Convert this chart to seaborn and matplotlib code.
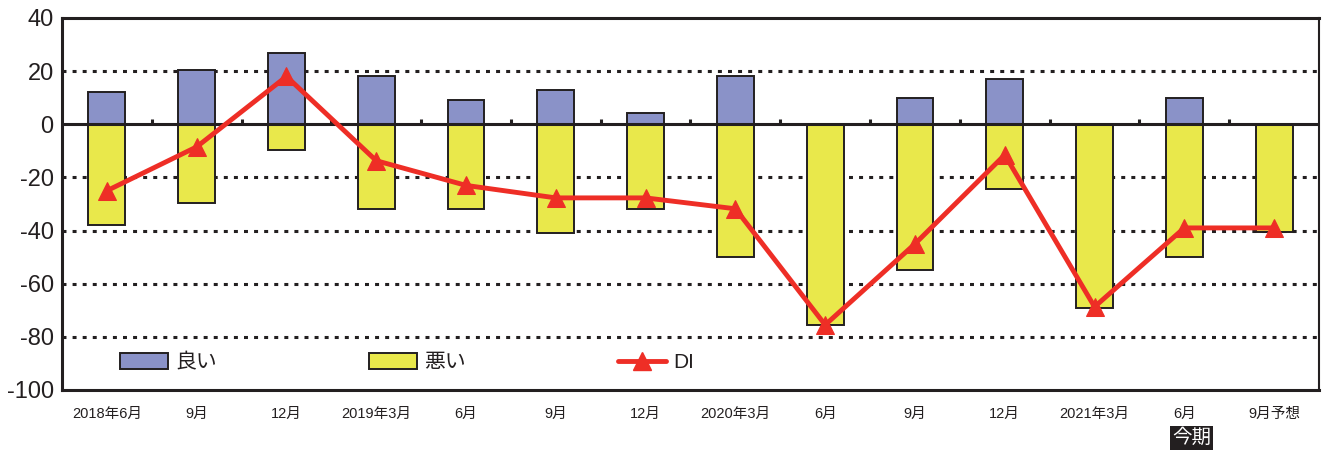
import numpy as np
import pandas as pd
import matplotlib
matplotlib.use("Agg")
import matplotlib.pyplot as plt
from matplotlib.patches import Patch
from matplotlib.lines import Line2D
import seaborn as sns

# Survey periods and responses (% of respondents)
periods = ["2018年6月", "9月", "12月", "2019年3月", "6月", "9月", "12月",
           "2020年3月", "6月", "9月", "12月", "2021年3月", "6月", "9月予想"]
good = [12, 20.5, 27, 18, 9, 13, 4.3, 18, 0, 10, 17, 0, 10, 0]
bad = [-38, -29.5, -9.5, -32, -32, -41, -32, -50, -75.5, -55, -24.5, -69, -50, -40.5]
di = [-25, -8.5, 18, -13.7, -23, -27.7, -27.7, -31.8, -75.5, -45, -11.5, -68.7, -39, -39]
yticks = [40, 20, 0, -20, -40, -60, -80, -100]
current_label = "今期"
current_index = 12

sns.set_theme(style="white")
plt.rcParams["font.family"] = ["Liberation Sans", "Noto Sans CJK JP", "DejaVu Sans"]

BLUE = "#8a92c8"
YELLOW = "#e9e84b"
RED = "#ee2e26"
INK = "#231f20"

fig = plt.figure(figsize=(13.27, 4.5), dpi=100)
ax = fig.add_axes([62 / 1327, 1 - 390 / 450, 1257 / 1327, 372 / 450])

n = len(periods)
df = pd.DataFrame({"period": [f"{i}" for i in range(n)], "good": good, "bad": bad})
order = list(df["period"])

sns.barplot(data=df, x="period", y="good", order=order, color=BLUE, width=0.41,
            edgecolor=INK, linewidth=1.4, saturation=1, ax=ax, zorder=3)
sns.barplot(data=df, x="period", y="bad", order=order, color=YELLOW, width=0.41,
            edgecolor=INK, linewidth=1.4, saturation=1, ax=ax, zorder=3)

sns.lineplot(x=np.arange(n), y=di, color=RED, linewidth=3.5, marker="^",
             markersize=13, markeredgecolor=RED, ax=ax, zorder=5)

ax.set_xlim(-0.5, n - 0.5)
ax.set_ylim(-100, 40)
ax.set_yticks(yticks)
ax.set_yticklabels([str(v) for v in yticks], fontsize=17, color=INK)
ax.set_xticks(np.arange(n))
ax.set_xticklabels(periods, fontsize=10.5, color=INK)
ax.tick_params(axis="x", length=0, pad=12)
ax.tick_params(axis="y", length=0, pad=6)
ax.set_xlabel("")
ax.set_ylabel("")

# dotted gridlines and solid zero line
for v in [20, -20, -40, -60, -80]:
    ax.axhline(v, color=INK, linewidth=2.2, linestyle=(0, (1.3, 2.0)), zorder=1)
ax.axhline(0, color=INK, linewidth=2.2, zorder=4)

# small category tick marks sitting on the zero line
ax.vlines(np.arange(n - 1) + 0.5, 0, 2.0, color=INK, linewidth=2.2, zorder=4)

for side in ["left", "top", "bottom", "right"]:
    ax.spines[side].set_visible(True)
    ax.spines[side].set_color(INK)
    ax.spines[side].set_linewidth(2.2)
ax.spines["right"].set_linewidth(1.5)

handles = [
    Patch(facecolor=BLUE, edgecolor=INK, linewidth=1.4, label="良い"),
    Patch(facecolor=YELLOW, edgecolor=INK, linewidth=1.4, label="悪い"),
    Line2D([0], [0], color=RED, linewidth=3.5, marker="^", markersize=13, label="DI"),
]
leg = ax.legend(handles=handles, ncol=3, loc="center left",
                bbox_to_anchor=(0.038, 0.073), frameon=False, fontsize=15,
                handlelength=2.3, handleheight=0.8, handletextpad=0.35,
                columnspacing=7.3, borderpad=0)
for t in leg.get_texts():
    t.set_color(INK)

ax.text(current_index + 0.08, -0.129, current_label, transform=ax.get_xaxis_transform(),
        ha="center", va="center", fontsize=14, color="white",
        bbox=dict(boxstyle="square,pad=0.12", facecolor=INK, edgecolor="none"))

fig.savefig("out.png", dpi=100)
